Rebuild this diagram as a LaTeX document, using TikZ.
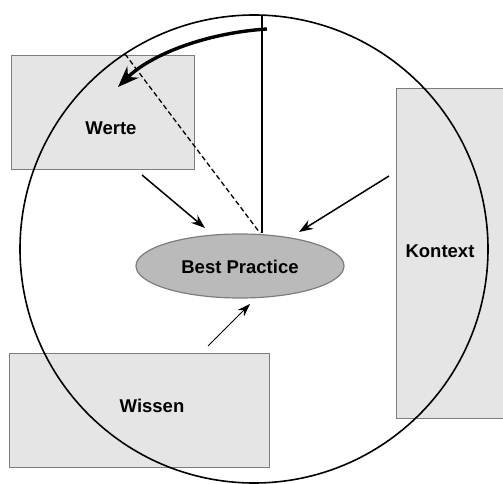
\documentclass[tikz,border=0pt]{standalone}
\usepackage{fontspec}
\setmainfont{Liberation Sans}
\usetikzlibrary{arrows.meta}
\definecolor{boxfill}{RGB}{229,229,229}
\definecolor{boxline}{RGB}{125,125,125}
\definecolor{ellfill}{RGB}{186,186,186}
\begin{document}
\begin{tikzpicture}[x=1pt,y=-1pt,
  box/.style={draw=boxline, fill=boxfill, line width=1.2pt, inner sep=0pt, anchor=north west},
  lbl/.style={font=\bfseries\fontsize{18.5}{20}\selectfont, inner sep=0pt},
  arr/.style={-{Stealth[length=14pt,width=10pt]}, line width=1.5pt},
  thinarr/.style={-{Stealth[length=13pt,width=9pt]}, line width=1pt}]
\useasboundingbox (0,0) rectangle (503,484);
\clip (0,0) rectangle (503,484);
\fill[white] (0,0) rectangle (503,484);
% boxes
\node[box, minimum width=183pt, minimum height=114pt] (werte) at (11,55) {};
\node[box, minimum width=120pt, minimum height=330pt] (kontext) at (396,88) {};
\node[box, minimum width=260pt, minimum height=114pt] (wissen) at (9,353) {};
\node[lbl] (wertet) at (111,128) {Werte};
\node[lbl] (kontextt) at (440,251) {Kontext};
\node[lbl] (wissent) at (152,406) {Wissen};
% circle
\node[draw, circle, line width=1.6pt, minimum size=468pt, inner sep=0pt] (ring) at (254,249) {};
% ellipse
\draw[boxline, fill=ellfill, line width=1.2pt] (240,266) ellipse [x radius=104, y radius=32];
\node[lbl] (bp) at (240,267) {Best Practice};
\coordinate (ctop) at (262,15);
\coordinate (cbot) at (262,233);
\coordinate (dtop) at (125,54);
\coordinate (dbot) at (260,233);
\draw[line width=1.4pt] (ctop) -- (cbot);
\draw[line width=1.3pt, dash pattern=on 5pt off 3pt] (dtop) -- (dbot);
% thick curved arrow
\coordinate (cs) at (267,29);
\coordinate (ce) at (118,87);
\draw[line width=3.4pt, -{Stealth[length=21pt,width=16pt]}] (cs) .. controls (205,33) and (150,55) .. (ce);
% arrows
\coordinate (a1s) at (142,175);
\coordinate (a1e) at (205,228);
\coordinate (a2s) at (389,176);
\coordinate (a2e) at (299,232);
\coordinate (a3s) at (208,346);
\coordinate (a3e) at (250,304);
\draw[arr] (a1s) -- (a1e);
\draw[arr] (a2s) -- (a2e);
\draw[thinarr] (a3s) -- (a3e);
\end{tikzpicture}
\end{document}
